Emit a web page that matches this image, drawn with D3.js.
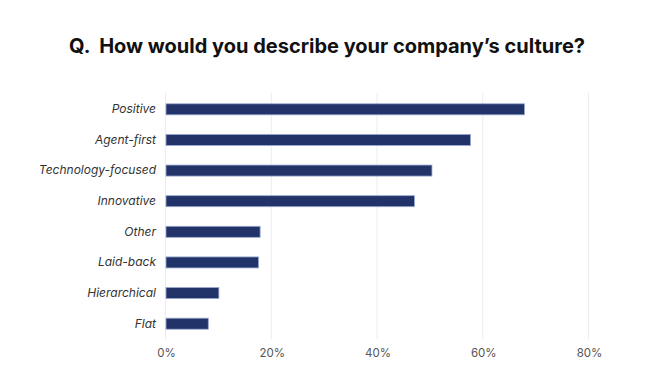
<!DOCTYPE html>
<html>
<head>
<meta charset="utf-8">
<script src="https://cdn.jsdelivr.net/npm/d3@7"></script>
<style>
  body { margin: 0; background: #fff; }
  svg { display: block; }
</style>
</head>
<body>
<div id="chart"></div>
<script>
var categories = ['Positive', 'Agent-first', 'Technology-focused', 'Innovative', 'Other', 'Laid-back', 'Hierarchical', 'Flat'];
var values = [67.8, 57.6, 50.3, 47.0, 17.8, 17.5, 10.0, 8.0];
var ticks = [0, 20, 40, 60, 80];

var data = categories.map(function(c, i) { return {name: c, value: values[i]}; });

var W = 655, H = 385;
var svg = d3.select("#chart").append("svg")
  .attr("width", W)
  .attr("height", H);

// title
svg.append("text")
  .attr("x", 327)
  .attr("y", 53)
  .attr("text-anchor", "middle")
  .attr("font-family", "Inter, 'Open Sans', sans-serif")
  .attr("font-weight", 700)
  .attr("font-size", 20)
  .attr("fill", "#111")
  .attr("xml:space", "preserve")
  .text("Q.  How would you describe your company\u2019s culture?");

var x = d3.scaleLinear().domain([0, 80]).range([166, 589]);
var y = d3.scaleBand().domain(categories).range([94, 339])
  .paddingInner(0.64).paddingOuter(0.32);

// grid
svg.append("g").selectAll("line")
  .data(ticks)
  .enter().append("line")
  .attr("x1", function(d) { return x(d) - 0.5; })
  .attr("x2", function(d) { return x(d) - 0.5; })
  .attr("y1", 93)
  .attr("y2", 339)
  .attr("stroke", "#ececec")
  .attr("stroke-width", 1);

// bars
svg.append("g").selectAll("rect")
  .data(data)
  .enter().append("rect")
  .attr("x", x(0))
  .attr("y", function(d) { return y(d.name); })
  .attr("width", function(d) { return x(d.value) - x(0); })
  .attr("height", y.bandwidth())
  .attr("fill", "#22336a")
  .attr("stroke", "#9aa8d0")
  .attr("stroke-width", 0.8);

// category labels
var yAxis = d3.axisLeft(y).tickSize(0).tickPadding(10);
var gy = svg.append("g")
  .attr("transform", "translate(166,0)")
  .call(yAxis);
gy.select(".domain").remove();
gy.selectAll("text")
  .attr("font-family", "Inter, 'Open Sans', sans-serif")
  .attr("font-style", "italic")
  .attr("font-size", 12)
  .attr("fill", "#333");

// x axis
var xAxis = d3.axisBottom(x).tickValues(ticks).tickSize(0).tickPadding(0)
  .tickFormat(function(d) { return d + "%"; });
var gx = svg.append("g")
  .attr("transform", "translate(0,349)")
  .call(xAxis);
gx.select(".domain").remove();
gx.selectAll("text")
  .attr("font-family", "Inter, 'Open Sans', sans-serif")
  .attr("font-size", 11.5)
  .attr("fill", "#555");
</script>
</body>
</html>
